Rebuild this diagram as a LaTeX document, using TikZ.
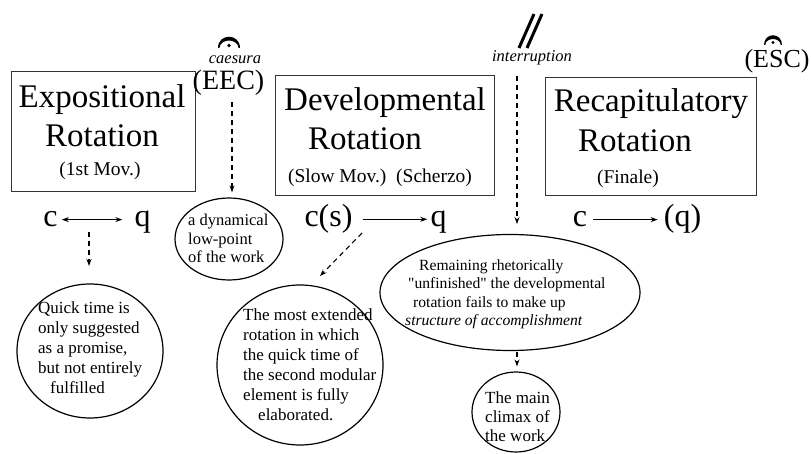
\documentclass[tikz,border=0pt]{standalone}
\usepackage{fontspec}
\setmainfont{Liberation Serif}[Ligatures=TeXOff]
\usetikzlibrary{shapes.geometric,arrows.meta}
\begin{document}
\begin{tikzpicture}[x=1pt,y=-1pt,
  big/.style={font=\fontsize{33}{36}\selectfont, inner sep=0pt, anchor=base},
  sub/.style={font=\fontsize{19.5}{22}\selectfont, inner sep=0pt, anchor=base},
  letter/.style={font=\fontsize{32}{34}\selectfont, inner sep=0pt, anchor=base},
  cadence/.style={font=\fontsize{28}{30}\selectfont, inner sep=0pt, anchor=base},
  note/.style={font=\fontsize{16.5}{18}\selectfont\itshape, inner sep=0pt, anchor=base},
  rbox/.style={draw=black!80, line width=1.4pt, inner sep=0pt, anchor=north west},
  bub/.style={ellipse, draw, line width=1.2pt, inner sep=0pt},
  btext/.style={font=\fontsize{17}{20}\selectfont, align=left, inner sep=0pt, anchor=north west},
  arr/.style={-{Stealth[length=7pt,width=5pt]}, line width=1.1pt},
  darr/.style={arr, dash pattern=on 5pt off 4pt},
]
\useasboundingbox (0,0) rectangle (811,454);

% boxes
\node[rbox, minimum width=184pt, minimum height=120pt] (box1) at (11,71) {};
\node[rbox, minimum width=219pt, minimum height=120pt] (box2) at (275,75) {};
\node[rbox, minimum width=211pt, minimum height=118pt] (box3) at (545,77) {};

\node[big] (t1a) at (102,108) {Expositional};
\node[big] (t1b) at (102,147) {Rotation};
\node[sub] (t1c) at (100,176) {(1st Mov.)};

\node[big] (t2a) at (385,111) {Developmental};
\node[big] (t2b) at (365,150) {Rotation};
\node[sub] (t2c) at (380,183) {(Slow Mov.)\ \ (Scherzo)};

\node[big] (t3a) at (651,112) {Recapitulatory};
\node[big] (t3b) at (635,152) {Rotation};
\node[sub] (t3c) at (628,184) {(Finale)};

% top marks
\fill (218,48) .. controls (218,33) and (240,33) .. (240,48) -- (238.6,48) .. controls (237.5,38) and (220.5,38) .. (219.4,48) -- cycle;
\fill (229,45.5) circle (1.8pt);
\node[note] (caes) at (235,64) {caesura};
\node[cadence] (eec) at (228.5,90) {(EEC)};

\fill (764,45) .. controls (764,32) and (782,32) .. (782,45) -- (780.8,45) .. controls (779.8,37) and (766.2,37) .. (765.2,45) -- cycle;
\fill (773,42.5) circle (1.7pt);
\node[cadence, font=\fontsize{26}{28}\selectfont] (esc) at (777,68) {(ESC)};

\draw[line width=3pt] (519,48) -- (534,14);
\draw[line width=3pt] (527,48) -- (542,14);
\node[note] (intr) at (532,62) {interruption};

% c / q rows
\node[letter] (c1) at (50.5,227) {c};
\node[letter] (q1) at (142.5,227) {q};
\draw[{Stealth[length=7pt,width=5pt]}-{Stealth[length=7pt,width=5pt]}, line width=1.1pt] ([xshift=4pt]c1.east) -- ([xshift=-12pt]c1.east -| q1.west);

\node[letter] (c2) at (328.5,227) {c(s)};
\node[letter] (q2) at (438.5,227) {q};
\draw[arr] ([xshift=10pt]c2.east) -- ([xshift=-3pt]c2.east -| q2.west);

\node[letter] (c3) at (580,227) {c};
\node[letter] (q3) at (682.5,227) {(q)};
\draw[arr] ([xshift=6pt]c3.east) -- ([xshift=-6pt]c3.east -| q3.west);

% bubbles
\node[bub, minimum width=108pt, minimum height=82pt] (dyn) at (229,239) {};
\node[btext, font=\fontsize{16.5}{18.5}\selectfont] (dynt) at (188,214) {a dynamical\\low-point\\of the work};

\node[bub, minimum width=146pt, minimum height=134pt] (quick) at (90,351) {};
\node[btext] (quickt) at (38,301.5) {Quick time is\\only suggested\\as a promise,\\but not entirely\\\hspace*{12pt}fulfilled};

\node[bub, minimum width=166pt, minimum height=160pt] (most) at (300,365) {};
\node[btext] (mostt) at (243,308.5) {The most extended\\rotation in which\\the quick time of\\the second modular\\element is fully\\\hspace*{15pt}elaborated.};

\node[bub, minimum width=260pt, minimum height=116pt] (rem) at (510,292.5) {};
\node[btext, font=\fontsize{15.6}{18.5}\selectfont] (remt) at (405,259.3) {\hspace*{14pt}Remaining rhetorically\\\hspace*{3pt}"unfinished" the developmental\\\hspace*{8pt}rotation fails to make up\\\textit{structure of accomplishment}};

\node[bub, minimum width=88pt, minimum height=80pt] (clim) at (516,412) {};
\node[btext, font=\fontsize{17}{19}\selectfont] (climt) at (485,391.5) {The main\\climax of\\the work};

% dashed connectors
\coordinate (d1s) at (89,232);
\coordinate (d1e) at (89,266);
\draw[darr] (d1s) -- (d1e);

\draw[darr, shorten <=6pt, shorten >=5pt] (eec.south -| 232,0) -- (dyn.north -| 232,0);

\coordinate (d3s) at (362,233);
\coordinate (d3e) at (320,276);
\draw[darr] (d3s) -- (d3e);

\coordinate (d4s) at (517,76);
\coordinate (d4e) at (517,224);
\draw[darr] (d4s) -- (d4e);

\draw[darr, shorten <=1pt, shorten >=5pt] (rem.south -| 517,0) -- (clim.north -| 517,0);
\end{tikzpicture}
\end{document}
